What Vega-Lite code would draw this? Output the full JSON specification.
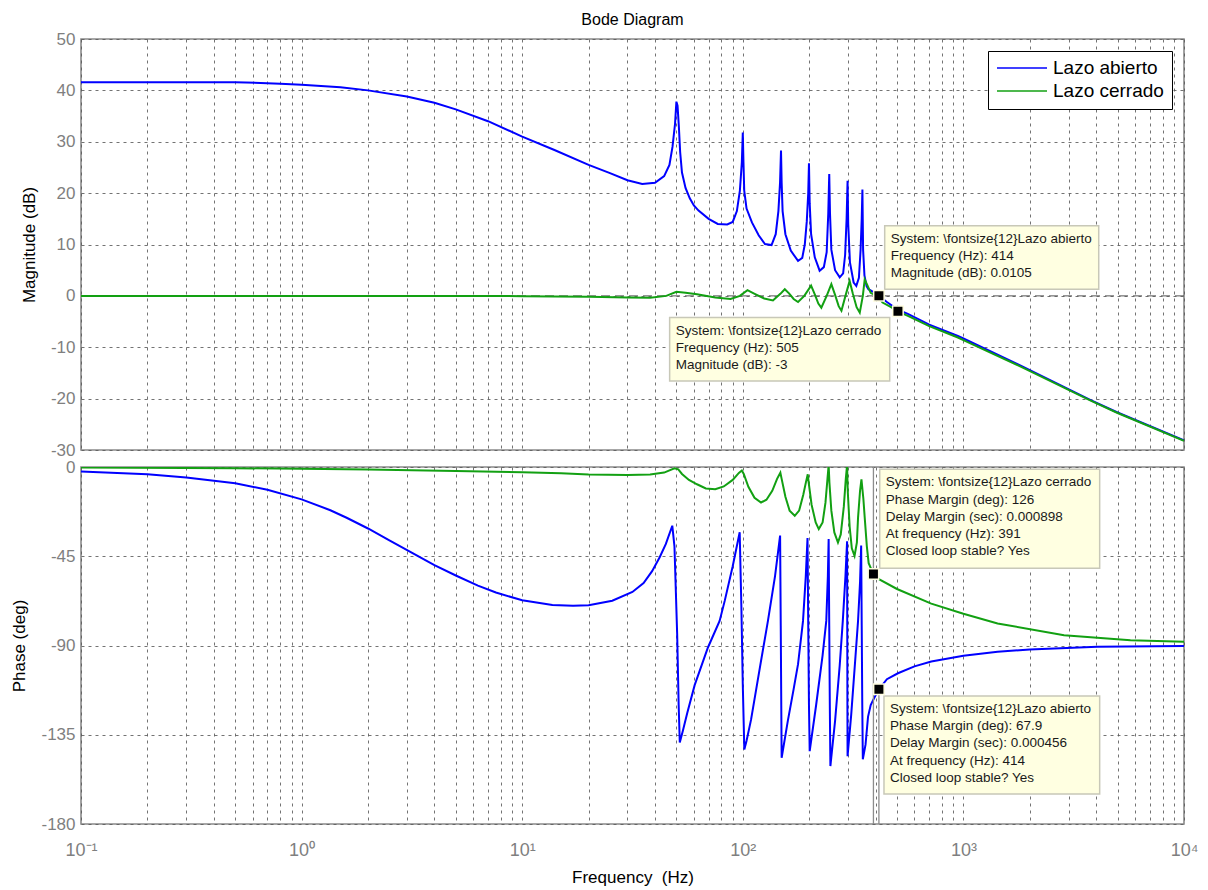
{
  "$schema": "https://vega.github.io/schema/vega-lite/v6.json",
  "background": "white",
  "padding": {"left": 10, "top": 11, "right": 14, "bottom": 0},
  "spacing": 17,
  "bounds": "flush",
  "resolve": {"legend": {"color": "independent"}},
  "config": {
    "view": {"stroke": "#8a8a8a", "strokeWidth": 1.6},
    "axis": {
      "grid": true, "gridColor": "#5a5a5a", "gridDash": [3, 4], "gridWidth": 1, "gridOpacity": 0.85,
      "ticks": false, "domain": false,
      "labelFont": "Liberation Sans", "labelFontSize": 17, "labelColor": "#7f7f7f",
      "titleFont": "Liberation Sans", "titleFontSize": 17, "titleFontWeight": "normal", "titleColor": "#000",
      "labelOverlap": false, "labelBound": false, "labelFlush": false
    }
  },
  "datasets": {
    "mag": [
      {"f":0.1,"v":41.6,"s":"Lazo abierto"},{"f":0.2,"v":41.6,"s":"Lazo abierto"},{"f":0.5,"v":41.6,"s":"Lazo abierto"},{"f":0.8,"v":41.3,"s":"Lazo abierto"},{"f":1,"v":41.1,"s":"Lazo abierto"},{"f":1.5,"v":40.6,"s":"Lazo abierto"},{"f":2,"v":40,"s":"Lazo abierto"},{"f":3,"v":38.8,"s":"Lazo abierto"},{"f":4,"v":37.6,"s":"Lazo abierto"},{"f":5,"v":36.3,"s":"Lazo abierto"},{"f":7,"v":34,"s":"Lazo abierto"},{"f":10,"v":31,"s":"Lazo abierto"},{"f":14,"v":28.4,"s":"Lazo abierto"},{"f":20,"v":25.5,"s":"Lazo abierto"},{"f":25,"v":23.9,"s":"Lazo abierto"},{"f":30,"v":22.5,"s":"Lazo abierto"},{"f":35,"v":21.8,"s":"Lazo abierto"},{"f":40,"v":22,"s":"Lazo abierto"},{"f":44,"v":23.3,"s":"Lazo abierto"},{"f":46.5,"v":25.5,"s":"Lazo abierto"},{"f":48,"v":29,"s":"Lazo abierto"},{"f":49.3,"v":33.5,"s":"Lazo abierto"},{"f":50,"v":37.8,"s":"Lazo abierto"},{"f":50.6,"v":37,"s":"Lazo abierto"},{"f":51.3,"v":33,"s":"Lazo abierto"},{"f":52,"v":28,"s":"Lazo abierto"},{"f":53,"v":24,"s":"Lazo abierto"},{"f":55,"v":21,"s":"Lazo abierto"},{"f":57.5,"v":19,"s":"Lazo abierto"},{"f":60,"v":17.6,"s":"Lazo abierto"},{"f":63,"v":16.6,"s":"Lazo abierto"},{"f":70,"v":15,"s":"Lazo abierto"},{"f":77,"v":14,"s":"Lazo abierto"},{"f":85,"v":13.9,"s":"Lazo abierto"},{"f":90,"v":14.4,"s":"Lazo abierto"},{"f":94,"v":16.5,"s":"Lazo abierto"},{"f":97,"v":20.5,"s":"Lazo abierto"},{"f":99,"v":26,"s":"Lazo abierto"},{"f":100,"v":31.8,"s":"Lazo abierto"},{"f":100.7,"v":26,"s":"Lazo abierto"},{"f":101.5,"v":20.5,"s":"Lazo abierto"},{"f":104,"v":17,"s":"Lazo abierto"},{"f":110,"v":14.3,"s":"Lazo abierto"},{"f":118,"v":11.8,"s":"Lazo abierto"},{"f":126,"v":10.1,"s":"Lazo abierto"},{"f":135,"v":9.9,"s":"Lazo abierto"},{"f":141,"v":12,"s":"Lazo abierto"},{"f":145,"v":16.5,"s":"Lazo abierto"},{"f":147.5,"v":22,"s":"Lazo abierto"},{"f":149,"v":28.3,"s":"Lazo abierto"},{"f":150,"v":22,"s":"Lazo abierto"},{"f":151.5,"v":16.5,"s":"Lazo abierto"},{"f":156,"v":12,"s":"Lazo abierto"},{"f":165,"v":8.8,"s":"Lazo abierto"},{"f":178,"v":6.8,"s":"Lazo abierto"},{"f":186,"v":7.4,"s":"Lazo abierto"},{"f":191,"v":10,"s":"Lazo abierto"},{"f":195,"v":14.5,"s":"Lazo abierto"},{"f":198,"v":20,"s":"Lazo abierto"},{"f":199.5,"v":25.8,"s":"Lazo abierto"},{"f":201,"v":18,"s":"Lazo abierto"},{"f":204,"v":12,"s":"Lazo abierto"},{"f":212,"v":7.5,"s":"Lazo abierto"},{"f":223,"v":4.9,"s":"Lazo abierto"},{"f":233,"v":5.6,"s":"Lazo abierto"},{"f":240,"v":8.5,"s":"Lazo abierto"},{"f":244,"v":16,"s":"Lazo abierto"},{"f":246.5,"v":23.7,"s":"Lazo abierto"},{"f":248.5,"v":16,"s":"Lazo abierto"},{"f":252,"v":9,"s":"Lazo abierto"},{"f":262,"v":5,"s":"Lazo abierto"},{"f":275,"v":3.6,"s":"Lazo abierto"},{"f":285,"v":4.4,"s":"Lazo abierto"},{"f":291,"v":8,"s":"Lazo abierto"},{"f":295.5,"v":15,"s":"Lazo abierto"},{"f":298.5,"v":22.4,"s":"Lazo abierto"},{"f":300.5,"v":14,"s":"Lazo abierto"},{"f":306,"v":6.5,"s":"Lazo abierto"},{"f":318,"v":2.6,"s":"Lazo abierto"},{"f":327,"v":1.95,"s":"Lazo abierto"},{"f":336,"v":3.5,"s":"Lazo abierto"},{"f":342,"v":9,"s":"Lazo abierto"},{"f":346,"v":15,"s":"Lazo abierto"},{"f":348.5,"v":20.7,"s":"Lazo abierto"},{"f":351,"v":9,"s":"Lazo abierto"},{"f":356,"v":4,"s":"Lazo abierto"},{"f":364,"v":1.9,"s":"Lazo abierto"},{"f":371,"v":1.3,"s":"Lazo abierto"},{"f":390,"v":0.8,"s":"Lazo abierto"},{"f":414,"v":0.01,"s":"Lazo abierto"},{"f":450,"v":-1.2,"s":"Lazo abierto"},{"f":505,"v":-2.7,"s":"Lazo abierto"},{"f":560,"v":-3.5,"s":"Lazo abierto"},{"f":700,"v":-5.6,"s":"Lazo abierto"},{"f":944,"v":-7.8,"s":"Lazo abierto"},{"f":1000,"v":-8.3,"s":"Lazo abierto"},{"f":1888,"v":-13.9,"s":"Lazo abierto"},{"f":3776,"v":-20.3,"s":"Lazo abierto"},{"f":5000,"v":-22.7,"s":"Lazo abierto"},{"f":10000,"v":-28.1,"s":"Lazo abierto"},
      {"f":0.1,"v":0,"s":"Lazo cerrado"},{"f":1,"v":0,"s":"Lazo cerrado"},{"f":5,"v":-0.02,"s":"Lazo cerrado"},{"f":10,"v":-0.05,"s":"Lazo cerrado"},{"f":20,"v":-0.15,"s":"Lazo cerrado"},{"f":30,"v":-0.3,"s":"Lazo cerrado"},{"f":38,"v":-0.35,"s":"Lazo cerrado"},{"f":45,"v":0,"s":"Lazo cerrado"},{"f":50,"v":0.8,"s":"Lazo cerrado"},{"f":55,"v":0.6,"s":"Lazo cerrado"},{"f":62,"v":0.3,"s":"Lazo cerrado"},{"f":75,"v":-0.3,"s":"Lazo cerrado"},{"f":88,"v":-0.6,"s":"Lazo cerrado"},{"f":97,"v":0,"s":"Lazo cerrado"},{"f":105,"v":1.1,"s":"Lazo cerrado"},{"f":112,"v":0.5,"s":"Lazo cerrado"},{"f":125,"v":-0.5,"s":"Lazo cerrado"},{"f":137,"v":-0.9,"s":"Lazo cerrado"},{"f":148,"v":0.4,"s":"Lazo cerrado"},{"f":155,"v":1.3,"s":"Lazo cerrado"},{"f":162,"v":0.5,"s":"Lazo cerrado"},{"f":170,"v":-0.6,"s":"Lazo cerrado"},{"f":178,"v":-1.2,"s":"Lazo cerrado"},{"f":190,"v":0,"s":"Lazo cerrado"},{"f":204,"v":2.0,"s":"Lazo cerrado"},{"f":212,"v":0.3,"s":"Lazo cerrado"},{"f":220,"v":-1.5,"s":"Lazo cerrado"},{"f":227,"v":-2.3,"s":"Lazo cerrado"},{"f":240,"v":0,"s":"Lazo cerrado"},{"f":252,"v":2.3,"s":"Lazo cerrado"},{"f":262,"v":0.2,"s":"Lazo cerrado"},{"f":272,"v":-2,"s":"Lazo cerrado"},{"f":280,"v":-2.9,"s":"Lazo cerrado"},{"f":292,"v":0,"s":"Lazo cerrado"},{"f":305,"v":2.9,"s":"Lazo cerrado"},{"f":315,"v":0.5,"s":"Lazo cerrado"},{"f":328,"v":-2.2,"s":"Lazo cerrado"},{"f":339,"v":-3.25,"s":"Lazo cerrado"},{"f":350,"v":0,"s":"Lazo cerrado"},{"f":357,"v":3.2,"s":"Lazo cerrado"},{"f":366,"v":2.2,"s":"Lazo cerrado"},{"f":380,"v":0.6,"s":"Lazo cerrado"},{"f":391,"v":0.3,"s":"Lazo cerrado"},{"f":405,"v":0.2,"s":"Lazo cerrado"},{"f":430,"v":-1.3,"s":"Lazo cerrado"},{"f":470,"v":-2.2,"s":"Lazo cerrado"},{"f":505,"v":-3,"s":"Lazo cerrado"},{"f":560,"v":-3.9,"s":"Lazo cerrado"},{"f":700,"v":-5.9,"s":"Lazo cerrado"},{"f":944,"v":-8.1,"s":"Lazo cerrado"},{"f":1000,"v":-8.6,"s":"Lazo cerrado"},{"f":1888,"v":-14.1,"s":"Lazo cerrado"},{"f":3776,"v":-20.4,"s":"Lazo cerrado"},{"f":5000,"v":-22.8,"s":"Lazo cerrado"},{"f":10000,"v":-28.2,"s":"Lazo cerrado"}
    ],
    "ph": [
      {"f":0.1,"v":-2.3,"s":"Lazo abierto"},{"f":0.2,"v":-3.7,"s":"Lazo abierto"},{"f":0.3,"v":-5.3,"s":"Lazo abierto"},{"f":0.5,"v":-8.2,"s":"Lazo abierto"},{"f":0.7,"v":-11.5,"s":"Lazo abierto"},{"f":1,"v":-16.3,"s":"Lazo abierto"},{"f":1.35,"v":-21.8,"s":"Lazo abierto"},{"f":1.6,"v":-25.6,"s":"Lazo abierto"},{"f":2,"v":-31,"s":"Lazo abierto"},{"f":2.5,"v":-37,"s":"Lazo abierto"},{"f":3.2,"v":-43.5,"s":"Lazo abierto"},{"f":4,"v":-49.5,"s":"Lazo abierto"},{"f":5,"v":-54.7,"s":"Lazo abierto"},{"f":6.3,"v":-59.8,"s":"Lazo abierto"},{"f":7.6,"v":-63.3,"s":"Lazo abierto"},{"f":10,"v":-67.2,"s":"Lazo abierto"},{"f":13.7,"v":-69.6,"s":"Lazo abierto"},{"f":17,"v":-70,"s":"Lazo abierto"},{"f":20,"v":-69.7,"s":"Lazo abierto"},{"f":25.6,"v":-67.4,"s":"Lazo abierto"},{"f":31.6,"v":-63,"s":"Lazo abierto"},{"f":35.5,"v":-58.5,"s":"Lazo abierto"},{"f":38.8,"v":-52.5,"s":"Lazo abierto"},{"f":42,"v":-45.5,"s":"Lazo abierto"},{"f":44.8,"v":-38.8,"s":"Lazo abierto"},{"f":47.9,"v":-29.6,"s":"Lazo abierto"},{"f":49,"v":-40,"s":"Lazo abierto"},{"f":50.4,"v":-84,"s":"Lazo abierto"},{"f":51.2,"v":-120,"s":"Lazo abierto"},{"f":51.8,"v":-138.9,"s":"Lazo abierto"},{"f":53.5,"v":-133,"s":"Lazo abierto"},{"f":56,"v":-124,"s":"Lazo abierto"},{"f":60.5,"v":-110,"s":"Lazo abierto"},{"f":69.5,"v":-91,"s":"Lazo abierto"},{"f":78.5,"v":-77.6,"s":"Lazo abierto"},{"f":82.8,"v":-67.5,"s":"Lazo abierto"},{"f":90,"v":-50,"s":"Lazo abierto"},{"f":96.8,"v":-32.9,"s":"Lazo abierto"},{"f":98.5,"v":-70,"s":"Lazo abierto"},{"f":100,"v":-110,"s":"Lazo abierto"},{"f":101.6,"v":-142.4,"s":"Lazo abierto"},{"f":104,"v":-138,"s":"Lazo abierto"},{"f":109,"v":-127.4,"s":"Lazo abierto"},{"f":120,"v":-100,"s":"Lazo abierto"},{"f":130,"v":-77.6,"s":"Lazo abierto"},{"f":140,"v":-55,"s":"Lazo abierto"},{"f":147.6,"v":-34.6,"s":"Lazo abierto"},{"f":148.6,"v":-80,"s":"Lazo abierto"},{"f":149.4,"v":-120,"s":"Lazo abierto"},{"f":150,"v":-146.6,"s":"Lazo abierto"},{"f":160,"v":-128,"s":"Lazo abierto"},{"f":170,"v":-112,"s":"Lazo abierto"},{"f":178,"v":-99.4,"s":"Lazo abierto"},{"f":187.5,"v":-77.6,"s":"Lazo abierto"},{"f":193,"v":-55,"s":"Lazo abierto"},{"f":196.5,"v":-35.8,"s":"Lazo abierto"},{"f":198,"v":-80,"s":"Lazo abierto"},{"f":199.5,"v":-120,"s":"Lazo abierto"},{"f":201,"v":-143.3,"s":"Lazo abierto"},{"f":215,"v":-120,"s":"Lazo abierto"},{"f":230,"v":-95,"s":"Lazo abierto"},{"f":239,"v":-77.6,"s":"Lazo abierto"},{"f":243,"v":-55,"s":"Lazo abierto"},{"f":245,"v":-36.3,"s":"Lazo abierto"},{"f":246.5,"v":-80,"s":"Lazo abierto"},{"f":248,"v":-120,"s":"Lazo abierto"},{"f":249.5,"v":-150.8,"s":"Lazo abierto"},{"f":262,"v":-128,"s":"Lazo abierto"},{"f":275,"v":-100,"s":"Lazo abierto"},{"f":284,"v":-77.6,"s":"Lazo abierto"},{"f":292,"v":-55,"s":"Lazo abierto"},{"f":297,"v":-37.4,"s":"Lazo abierto"},{"f":297.5,"v":-80,"s":"Lazo abierto"},{"f":298,"v":-120,"s":"Lazo abierto"},{"f":298.5,"v":-145.8,"s":"Lazo abierto"},{"f":310,"v":-125,"s":"Lazo abierto"},{"f":322,"v":-100,"s":"Lazo abierto"},{"f":333,"v":-77.6,"s":"Lazo abierto"},{"f":340,"v":-58,"s":"Lazo abierto"},{"f":344,"v":-39.6,"s":"Lazo abierto"},{"f":346,"v":-80,"s":"Lazo abierto"},{"f":348,"v":-120,"s":"Lazo abierto"},{"f":350,"v":-147.4,"s":"Lazo abierto"},{"f":360,"v":-140,"s":"Lazo abierto"},{"f":369.5,"v":-126,"s":"Lazo abierto"},{"f":380,"v":-120,"s":"Lazo abierto"},{"f":396,"v":-116,"s":"Lazo abierto"},{"f":414,"v":-112.1,"s":"Lazo abierto"},{"f":450,"v":-107,"s":"Lazo abierto"},{"f":505,"v":-104,"s":"Lazo abierto"},{"f":600,"v":-100.5,"s":"Lazo abierto"},{"f":715,"v":-98.1,"s":"Lazo abierto"},{"f":1000,"v":-95.2,"s":"Lazo abierto"},{"f":1429,"v":-93.1,"s":"Lazo abierto"},{"f":2000,"v":-92,"s":"Lazo abierto"},{"f":4045,"v":-90.6,"s":"Lazo abierto"},{"f":10000,"v":-90.3,"s":"Lazo abierto"},
      {"f":0.1,"v":-0.3,"s":"Lazo cerrado"},{"f":0.5,"v":-0.6,"s":"Lazo cerrado"},{"f":1,"v":-0.9,"s":"Lazo cerrado"},{"f":2,"v":-1.3,"s":"Lazo cerrado"},{"f":5,"v":-2,"s":"Lazo cerrado"},{"f":10,"v":-2.6,"s":"Lazo cerrado"},{"f":15,"v":-3.2,"s":"Lazo cerrado"},{"f":20,"v":-3.8,"s":"Lazo cerrado"},{"f":30,"v":-4,"s":"Lazo cerrado"},{"f":38,"v":-3.8,"s":"Lazo cerrado"},{"f":44,"v":-2.8,"s":"Lazo cerrado"},{"f":49,"v":-0.7,"s":"Lazo cerrado"},{"f":51,"v":-1.2,"s":"Lazo cerrado"},{"f":53,"v":-3.5,"s":"Lazo cerrado"},{"f":57,"v":-6.5,"s":"Lazo cerrado"},{"f":62,"v":-8.7,"s":"Lazo cerrado"},{"f":68,"v":-10.8,"s":"Lazo cerrado"},{"f":75,"v":-11.2,"s":"Lazo cerrado"},{"f":82,"v":-9.8,"s":"Lazo cerrado"},{"f":90,"v":-6.5,"s":"Lazo cerrado"},{"f":96,"v":-3,"s":"Lazo cerrado"},{"f":99,"v":-1.8,"s":"Lazo cerrado"},{"f":101,"v":-3.5,"s":"Lazo cerrado"},{"f":106,"v":-10,"s":"Lazo cerrado"},{"f":113,"v":-15.5,"s":"Lazo cerrado"},{"f":121,"v":-17.9,"s":"Lazo cerrado"},{"f":128,"v":-16.5,"s":"Lazo cerrado"},{"f":136,"v":-12,"s":"Lazo cerrado"},{"f":143,"v":-6,"s":"Lazo cerrado"},{"f":148,"v":-2.9,"s":"Lazo cerrado"},{"f":150,"v":-6,"s":"Lazo cerrado"},{"f":156,"v":-15,"s":"Lazo cerrado"},{"f":163,"v":-22,"s":"Lazo cerrado"},{"f":172,"v":-24.6,"s":"Lazo cerrado"},{"f":180,"v":-22,"s":"Lazo cerrado"},{"f":188,"v":-14,"s":"Lazo cerrado"},{"f":193,"v":-8,"s":"Lazo cerrado"},{"f":197,"v":-3.7,"s":"Lazo cerrado"},{"f":199,"v":-8,"s":"Lazo cerrado"},{"f":205,"v":-19,"s":"Lazo cerrado"},{"f":214,"v":-28,"s":"Lazo cerrado"},{"f":221,"v":-31.3,"s":"Lazo cerrado"},{"f":230,"v":-28,"s":"Lazo cerrado"},{"f":237,"v":-18,"s":"Lazo cerrado"},{"f":242,"v":-6,"s":"Lazo cerrado"},{"f":245,"v":1,"s":"Lazo cerrado"},{"f":247,"v":-8,"s":"Lazo cerrado"},{"f":252,"v":-22,"s":"Lazo cerrado"},{"f":260,"v":-33,"s":"Lazo cerrado"},{"f":270,"v":-38.1,"s":"Lazo cerrado"},{"f":278,"v":-34,"s":"Lazo cerrado"},{"f":287,"v":-20,"s":"Lazo cerrado"},{"f":293,"v":-6,"s":"Lazo cerrado"},{"f":297,"v":1,"s":"Lazo cerrado"},{"f":299,"v":-12,"s":"Lazo cerrado"},{"f":305,"v":-30,"s":"Lazo cerrado"},{"f":312,"v":-41,"s":"Lazo cerrado"},{"f":321,"v":-44.8,"s":"Lazo cerrado"},{"f":329,"v":-38,"s":"Lazo cerrado"},{"f":333,"v":-25.5,"s":"Lazo cerrado"},{"f":340,"v":-12,"s":"Lazo cerrado"},{"f":345,"v":-6.2,"s":"Lazo cerrado"},{"f":352,"v":-16,"s":"Lazo cerrado"},{"f":357,"v":-25.5,"s":"Lazo cerrado"},{"f":365,"v":-40,"s":"Lazo cerrado"},{"f":372,"v":-48.5,"s":"Lazo cerrado"},{"f":391,"v":-54,"s":"Lazo cerrado"},{"f":414,"v":-56.5,"s":"Lazo cerrado"},{"f":500,"v":-61.5,"s":"Lazo cerrado"},{"f":715,"v":-68.9,"s":"Lazo cerrado"},{"f":1000,"v":-74,"s":"Lazo cerrado"},{"f":1429,"v":-78.9,"s":"Lazo cerrado"},{"f":2860,"v":-84.8,"s":"Lazo cerrado"},{"f":5720,"v":-87.3,"s":"Lazo cerrado"},{"f":10000,"v":-88.1,"s":"Lazo cerrado"}
    ],
    "tipsM": [
      {"f":439.8,"f2":4106,"v":13.65,"v2":1.31,"t":"System: \\fontsize{12}Lazo abierto\nFrequency (Hz): 414\nMagnitude (dB): 0.0105"},
      {"f":46.6,"f2":463.4,"v":-4.23,"v2":-16.57,"t":"System: \\fontsize{12}Lazo cerrado\nFrequency (Hz): 505\nMagnitude (dB): -3"}
    ],
    "tipsP": [
      {"f":417.5,"f2":4147,"v":-1.16,"v2":-51,"t":"System: \\fontsize{12}Lazo cerrado\nPhase Margin (deg): 126\nDelay Margin (sec): 0.000898\nAt frequency (Hz): 391\nClosed loop stable? Yes"},
      {"f":436.5,"f2":4147,"v":-115.4,"v2":-164.9,"t":"System: \\fontsize{12}Lazo abierto\nPhase Margin (deg): 67.9\nDelay Margin (sec): 0.000456\nAt frequency (Hz): 414\nClosed loop stable? Yes"}
    ],
    "ptsM": [{"f":414,"v":0.0105},{"f":505,"v":-3}],
    "ptsP": [{"f":391,"v":-54},{"f":414,"v":-112.1}],
    "rulesP": [{"f":391,"v":0,"v2":-180},{"f":414,"v":-112.1,"v2":-180}]
  },
  "vconcat": [
    {
      "width": 1103,
      "height": 411,
      "title": {"text": "Bode Diagram", "fontSize": 16, "fontWeight": "normal", "font": "Liberation Sans", "color": "#000", "anchor": "middle", "frame": "group", "offset": 2},
      "layer": [
        {
          "data": {"values": [{}]},
          "mark": {"type": "rule", "color": "#555", "strokeDash": [9, 5], "strokeWidth": 1},
          "encoding": {"y": {"datum": 0, "type": "quantitative"}}
        },
        {
          "data": {"name": "mag"},
          "mark": {"type": "line", "strokeWidth": 2, "clip": true},
          "encoding": {
            "x": {"field": "f", "type": "quantitative", "scale": {"type": "log", "domain": [0.1, 10000]},
                  "axis": {"values": [0.1,0.2,0.3,0.4,0.5,0.6,0.7,0.8,0.9,1,2,3,4,5,6,7,8,9,10,20,30,40,50,60,70,80,90,100,200,300,400,500,600,700,800,900,1000,2000,3000,4000,5000,6000,7000,8000,9000,10000], "labels": false, "title": null, "minExtent": 0, "maxExtent": 0, "labelPadding": 0}},
            "y": {"field": "v", "type": "quantitative", "scale": {"domain": [-30, 50], "nice": false, "zero": false},
                  "axis": {"values": [-30,-20,-10,0,10,20,30,40,50], "title": "Magnitude (dB)", "labelPadding": 6, "titlePadding": 12, "labelExpr": "replace(datum.label, '\u2212', '-')"}},
            "color": {"field": "s", "type": "nominal",
                      "scale": {"domain": ["Lazo abierto", "Lazo cerrado"], "range": ["#0000ff", "#12a012"]},
                      "legend": {"title": null, "orient": "top-right", "offset": 12, "padding": 8, "strokeColor": "#000", "fillColor": "#fff",
                                 "symbolType": "stroke", "symbolSize": 2500, "symbolStrokeWidth": 1.5, "labelFontSize": 19, "labelFont": "Liberation Sans",
                                 "labelColor": "#000", "rowPadding": 4, "clipHeight": 18, "labelOffset": 5, "cornerRadius": 0}}
          }
        },
        {
          "data": {"name": "tipsM"},
          "mark": {"type": "rect", "fill": "#ffffe1", "stroke": "#c8c8b8", "strokeWidth": 1.5},
          "encoding": {
            "x": {"field": "f", "type": "quantitative"}, "x2": {"field": "f2"},
            "y": {"field": "v", "type": "quantitative"}, "y2": {"field": "v2"}
          }
        },
        {
          "data": {"name": "tipsM"},
          "mark": {"type": "text", "align": "left", "baseline": "top", "dx": 6, "dy": 6, "font": "Liberation Sans", "fontSize": 13.5, "lineHeight": 17, "lineBreak": "\n", "color": "#1a1a1a"},
          "encoding": {
            "x": {"field": "f", "type": "quantitative"},
            "y": {"field": "v", "type": "quantitative"},
            "text": {"field": "t", "type": "nominal"}
          }
        },
        {
          "data": {"name": "ptsM"},
          "mark": {"type": "point", "shape": "square", "filled": true, "size": 110, "color": "#000", "stroke": "#fffde0", "strokeWidth": 1.5, "opacity": 1},
          "encoding": {
            "x": {"field": "f", "type": "quantitative"},
            "y": {"field": "v", "type": "quantitative"}
          }
        }
      ]
    },
    {
      "width": 1103,
      "height": 357,
      "layer": [
        {
          "data": {"name": "ph"},
          "mark": {"type": "line", "strokeWidth": 2, "clip": true},
          "encoding": {
            "x": {"field": "f", "type": "quantitative", "scale": {"type": "log", "domain": [0.1, 10000]},
                  "axis": {"values": [0.1,0.2,0.3,0.4,0.5,0.6,0.7,0.8,0.9,1,2,3,4,5,6,7,8,9,10,20,30,40,50,60,70,80,90,100,200,300,400,500,600,700,800,900,1000,2000,3000,4000,5000,6000,7000,8000,9000,10000],
                           "labelExpr": "datum.value == 0.1 ? '10⁻¹' : datum.value == 1 ? '10⁰' : datum.value == 10 ? '10¹' : datum.value == 100 ? '10²' : datum.value == 1000 ? '10³' : datum.value == 10000 ? '10⁴' : ''",
                           "labelFontSize": 18, "labelPadding": 17, "title": "Frequency\u00a0 (Hz)", "titlePadding": 10}},
            "y": {"field": "v", "type": "quantitative", "scale": {"domain": [-180, 0], "nice": false, "zero": false},
                  "axis": {"values": [-180,-135,-90,-45,0], "title": "Phase (deg)", "labelPadding": 6, "titlePadding": 12, "labelExpr": "replace(datum.label, '\u2212', '-')"}},
            "color": {"field": "s", "type": "nominal",
                      "scale": {"domain": ["Lazo abierto", "Lazo cerrado"], "range": ["#0000ff", "#12a012"]},
                      "legend": null}
          }
        },
        {
          "data": {"name": "rulesP"},
          "mark": {"type": "rule", "color": "#8c8c8c", "strokeWidth": 1.3},
          "encoding": {
            "x": {"field": "f", "type": "quantitative"},
            "y": {"field": "v", "type": "quantitative"}, "y2": {"field": "v2"}
          }
        },
        {
          "data": {"name": "tipsP"},
          "mark": {"type": "rect", "fill": "#ffffe1", "stroke": "#c8c8b8", "strokeWidth": 1.5},
          "encoding": {
            "x": {"field": "f", "type": "quantitative"}, "x2": {"field": "f2"},
            "y": {"field": "v", "type": "quantitative"}, "y2": {"field": "v2"}
          }
        },
        {
          "data": {"name": "tipsP"},
          "mark": {"type": "text", "align": "left", "baseline": "top", "dx": 6, "dy": 6, "font": "Liberation Sans", "fontSize": 13.5, "lineHeight": 17.3, "lineBreak": "\n", "color": "#1a1a1a"},
          "encoding": {
            "x": {"field": "f", "type": "quantitative"},
            "y": {"field": "v", "type": "quantitative"},
            "text": {"field": "t", "type": "nominal"}
          }
        },
        {
          "data": {"name": "ptsP"},
          "mark": {"type": "point", "shape": "square", "filled": true, "size": 110, "color": "#000", "stroke": "#fffde0", "strokeWidth": 1.5, "opacity": 1},
          "encoding": {
            "x": {"field": "f", "type": "quantitative"},
            "y": {"field": "v", "type": "quantitative"}
          }
        }
      ]
    }
  ]
}
